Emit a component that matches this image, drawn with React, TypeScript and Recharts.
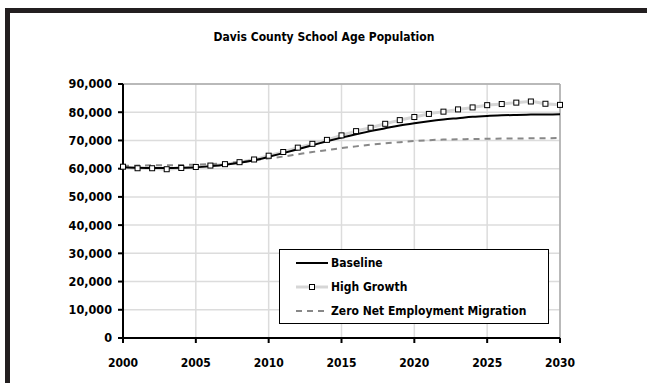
import { LineChart, Line, XAxis, YAxis, CartesianGrid, Legend, ReferenceLine } from 'recharts';

const years = [
  2000, 2001, 2002, 2003, 2004, 2005, 2006, 2007, 2008, 2009, 2010,
  2011, 2012, 2013, 2014, 2015, 2016, 2017, 2018, 2019, 2020,
  2021, 2022, 2023, 2024, 2025, 2026, 2027, 2028, 2029, 2030,
];

const baseline = [
  60500, 60300, 60200, 60200, 60300, 60500, 60900, 61400, 62100, 63000, 64200,
  65500, 66900, 68300, 69700, 71000, 72200, 73300, 74300, 75300, 76100,
  76800, 77400, 77900, 78400, 78700, 78900, 79050, 79150, 79200, 79250,
];

const highGrowth = [
  60700, 60150, 60150, 59800, 60250, 60600, 61100, 61600, 62300, 63250, 64600,
  65900, 67450, 68800, 70200, 71800, 73300, 74500, 75900, 77200, 78300,
  79400, 80200, 81000, 81700, 82500, 82900, 83400, 83800, 83000, 82600,
];

const zeroNetMigration = [
  61000, 61100, 61200, 61200, 61300, 61400, 61600, 61900, 62400, 63000, 63600,
  64300, 65100, 65900, 66600, 67300, 67900, 68500, 69000, 69400, 69800,
  70100, 70300, 70400, 70500, 70600, 70650, 70700, 70750, 70800, 70850,
];

const xTicks = [2000, 2005, 2010, 2015, 2020, 2025, 2030];
const yTicks = [0, 10000, 20000, 30000, 40000, 50000, 60000, 70000, 80000, 90000];

const seriesNames = ['Baseline', 'High Growth', 'Zero Net Employment Migration'];

const data = years.map((year, i) => ({
  year,
  baseline: baseline[i],
  highGrowth: highGrowth[i],
  zeroNet: zeroNetMigration[i],
}));

const FONT = '"DejaVu Sans Condensed", "DejaVu Sans", sans-serif';

// hollow square marker for the High Growth series
const SquareDot = (props: any) => {
  const { cx, cy } = props;
  if (cx == null || cy == null) return null;
  return <rect x={cx - 2.5} y={cy - 2.5} width={5} height={5} fill="#fff" stroke="#000" strokeWidth={1} />;
};

const LegendBox = () => {
  const sample = (i: number) => (
    <svg width={40} height={24} style={{ display: 'block', flex: 'none' }}>
      {i === 0 && <line x1={4} x2={36} y1={12} y2={12} stroke="#000" strokeWidth={2} />}
      {i === 1 && (
        <>
          <line x1={4} x2={36} y1={12} y2={12} stroke="#d6d6d6" strokeWidth={3} />
          <rect x={17.5} y={9.5} width={5} height={5} fill="#fff" stroke="#000" strokeWidth={1} />
        </>
      )}
      {i === 2 && <line x1={4} x2={36} y1={12} y2={12} stroke="#888" strokeWidth={2} strokeDasharray="6 5" />}
    </svg>
  );
  return (
    <div
      style={{
        boxSizing: 'border-box',
        width: 270,
        height: 75,
        border: '1px solid #000',
        background: '#fff',
        padding: '1px 0 0 12px',
        fontFamily: FONT,
        fontWeight: 'bold',
        fontSize: 12,
        color: '#000',
      }}
    >
      {seriesNames.map((name, i) => (
        <div key={name} style={{ display: 'flex', alignItems: 'center', height: 24, whiteSpace: 'nowrap' }}>
          {sample(i)}
          <span style={{ marginLeft: -1 }}>{name}</span>
        </div>
      ))}
    </div>
  );
};

export default function App() {
  return (
    <div style={{ position: 'relative', width: 647, height: 383, overflow: 'hidden', background: '#fff' }}>
      <style>{'body{margin:0;overflow:hidden}'}</style>
      <div
        style={{
          position: 'absolute',
          left: 5,
          top: 8,
          width: 700,
          height: 400,
          borderTop: '5px solid #231f20',
          borderLeft: '5px solid #231f20',
        }}
      />
      <div
        style={{
          position: 'absolute',
          left: 0,
          width: 648,
          top: 30,
          textAlign: 'center',
          fontFamily: FONT,
          fontWeight: 'bold',
          fontSize: 12,
          color: '#000',
        }}
      >
        Davis County School Age Population
      </div>
      <div style={{ position: 'absolute', left: 0, top: 0 }}>
        <LineChart width={647} height={383} data={data} margin={{ top: 84, right: 87, bottom: 15, left: 0 }}>
          <CartesianGrid stroke="#dcdcdc" strokeWidth={1.5} />
          <ReferenceLine y={90000} stroke="#aaa" strokeWidth={1.5} />
          <ReferenceLine x={2030} stroke="#aaa" strokeWidth={1.5} />
          <XAxis
            dataKey="year"
            type="number"
            domain={[2000, 2030]}
            ticks={xTicks}
            axisLine={{ stroke: '#000', strokeWidth: 2 }}
            tickLine={{ stroke: '#000', strokeWidth: 2 }}
            tickSize={5}
            tickMargin={15}
            height={30}
            tick={{ fill: '#000', fontSize: 12, fontWeight: 'bold', fontFamily: FONT }}
          />
          <YAxis
            type="number"
            domain={[0, 90000]}
            ticks={yTicks}
            width={123}
            axisLine={{ stroke: '#000', strokeWidth: 2 }}
            tickLine={{ stroke: '#000', strokeWidth: 2 }}
            tickSize={5}
            tickMargin={6}
            tickFormatter={(v: number) => v.toLocaleString('en-US')}
            tick={{ fill: '#000', fontSize: 12.5, fontWeight: 'bold', fontFamily: FONT }}
          />
          <Legend
            layout="vertical"
            align="center"
            verticalAlign="middle"
            wrapperStyle={{ left: 279, top: 249, width: 270 }}
            content={() => <LegendBox />}
          />
          <Line
            type="monotone"
            dataKey="highGrowth"
            stroke="#d6d6d6"
            strokeWidth={3}
            dot={false}
            activeDot={false}
            isAnimationActive={false}
          />
          <Line
            type="monotone"
            dataKey="zeroNet"
            stroke="#888"
            strokeWidth={2}
            strokeDasharray="6 5"
            dot={false}
            activeDot={false}
            isAnimationActive={false}
          />
          <Line
            type="monotone"
            dataKey="baseline"
            stroke="#000"
            strokeWidth={2}
            dot={false}
            activeDot={false}
            isAnimationActive={false}
          />
          <Line
            type="monotone"
            dataKey="highGrowth"
            stroke="none"
            dot={<SquareDot />}
            activeDot={false}
            legendType="none"
            isAnimationActive={false}
          />
        </LineChart>
      </div>
    </div>
  );
}
